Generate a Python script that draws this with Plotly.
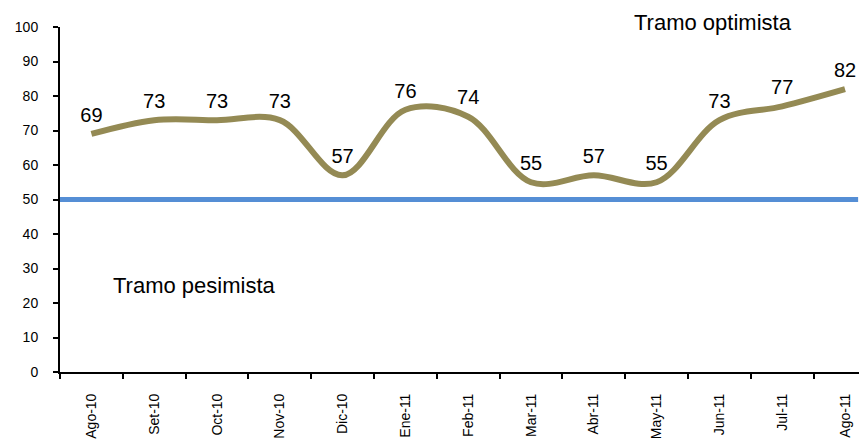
import plotly.graph_objects as go

# ------------------ Data ------------------
months = ['Ago-10', 'Set-10', 'Oct-10', 'Nov-10', 'Dic-10', 'Ene-11', 'Feb-11',
          'Mar-11', 'Abr-11', 'May-11', 'Jun-11', 'Jul-11', 'Ago-11']
index_values = [69, 73, 73, 73, 57, 76, 74, 55, 57, 55, 73, 77, 82]
threshold = 50  # limit between pessimistic and optimistic ranges
y_ticks = list(range(0, 101, 10))

# ------------------ Styles ------------------
line_color = '#948A54'
threshold_color = '#558ED5'
font_family = 'Liberation Sans, Arial, sans-serif'

fig = go.Figure()

# Smoothed index line with value labels above each point
fig.add_trace(go.Scatter(
    x=months, y=index_values,
    mode='lines+markers+text',
    line=dict(color=line_color, width=6, shape='spline', smoothing=1.0),
    marker=dict(size=10, color='rgba(0,0,0,0)'),
    text=[str(v) for v in index_values],
    textposition='top center',
    textfont=dict(size=20, color='black', family=font_family),
    cliponaxis=False,
    showlegend=False,
))

# Threshold line at 50
fig.add_shape(type='line', xref='paper', yref='y', x0=0, x1=0.989,
              y0=threshold, y1=threshold,
              line=dict(color=threshold_color, width=5), layer='below')

fig.add_annotation(text='Tramo optimista', xref='paper', yref='paper',
                   x=0.809, y=1.014, xanchor='center', yanchor='middle',
                   showarrow=False,
                   font=dict(size=22, color='black', family=font_family))
fig.add_annotation(text='Tramo pesimista', xref='paper', yref='y',
                   x=0.167, y=25.2, xanchor='center', yanchor='middle',
                   showarrow=False,
                   font=dict(size=22, color='black', family=font_family))

# page body has an 8px default margin, so the figure is shifted up/left to compensate
fig.update_layout(
    width=859, height=435,
    margin=dict(l=52, r=0, t=19, b=71),
    plot_bgcolor='white', paper_bgcolor='white',
    font=dict(family=font_family, color='black', size=13),
)

fig.update_xaxes(
    type='category', range=[-0.5, 12.35],
    showline=True, linecolor='black', linewidth=2,
    ticks='outside', tickson='boundaries', ticklen=5, tickcolor='black', tickwidth=1.5,
    tickangle=-90, tickfont=dict(size=14), ticklabelstandoff=14,
    showgrid=False, zeroline=False,
)
fig.update_yaxes(
    range=[0, 100], tickvals=y_ticks,
    showline=True, linecolor='black', linewidth=2,
    ticks='outside', ticklen=5, tickcolor='black', tickwidth=1.5,
    tickfont=dict(size=14), ticklabelstandoff=12,
    showgrid=False, zeroline=False,
)

fig.write_html("out.html")
